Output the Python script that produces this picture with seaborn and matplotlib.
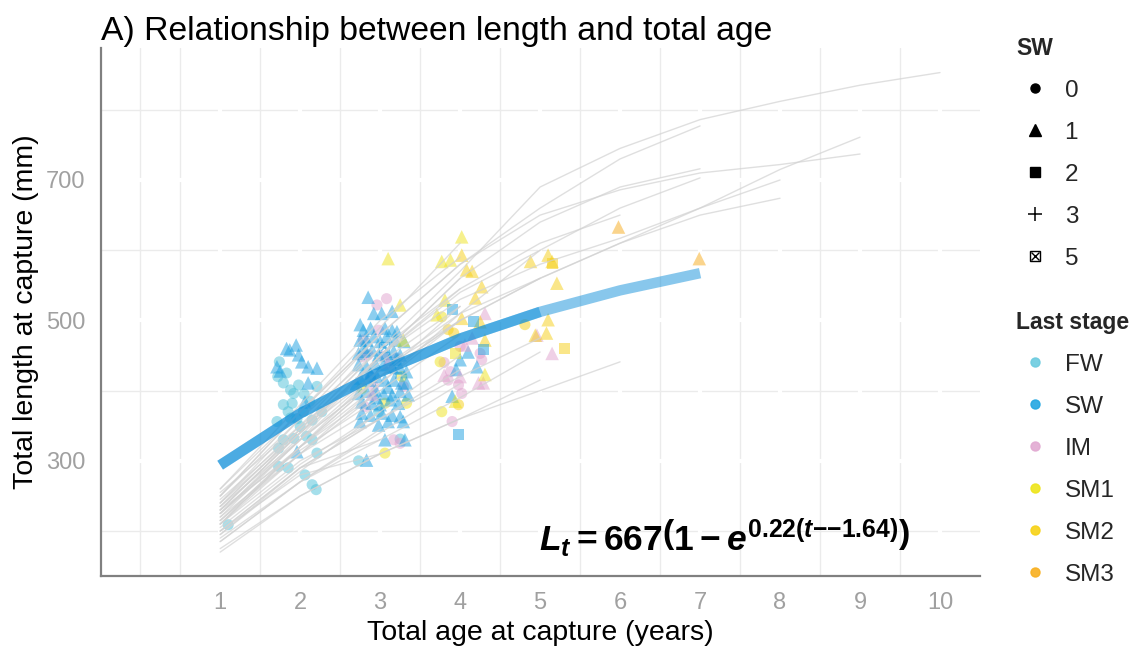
import numpy as np
import pandas as pd
import matplotlib
matplotlib.use("Agg")
import matplotlib.pyplot as plt
from matplotlib.lines import Line2D
import seaborn as sns

# ---------------- captured fish: age (years), total length (mm), sea-winters ----------------
fw_age = [1.10, 1.71, 1.72, 1.73, 1.73, 1.74, 1.79, 1.79, 1.79, 1.83, 1.85, 1.85, 1.88, 1.88,
          1.90, 1.92, 1.92, 1.96, 1.98, 2.00, 2.04, 2.05, 2.06, 2.08, 2.12, 2.15, 2.15, 2.15,
          2.20, 2.21, 2.21, 2.27, 2.73, 2.98, 3.25]
fw_len = [209, 356, 420, 318, 292, 441, 411, 380, 330, 425, 370, 290, 401, 361,
          382, 396, 332, 360, 408, 349, 370, 395, 280, 335, 385, 358, 330, 266,
          259, 406, 311, 370, 300, 370, 331]
fw_sw = [0, 0, 0, 0, 0, 0, 0, 0, 0, 0, 0, 0, 0, 0, 0, 0, 0, 0, 0, 0, 0, 0, 0, 0, 0, 0, 0, 0,
         0, 0, 0, 0, 0, 0, 0]

sw_age = [1.71, 1.75, 1.83, 1.87, 1.95, 1.96, 1.98, 2.02, 2.06, 2.10, 2.10, 2.21,
          2.85, 2.92, 3.02, 3.15, 2.75, 2.79, 2.88, 3.06, 3.15, 3.21, 2.75, 2.83, 2.92, 3.00,
          3.08, 3.19, 2.73, 2.81, 2.90, 2.98, 3.08, 3.17, 3.25, 2.73, 2.83, 2.94, 3.04, 3.15,
          3.25, 3.33, 2.75, 2.85, 2.96, 3.06, 3.17, 3.27, 3.33, 2.73, 2.83, 2.94, 3.04, 3.15,
          3.25, 3.35, 2.77, 2.90, 3.00, 3.13, 3.23, 2.77, 2.88, 3.02, 3.15, 3.25, 2.75, 2.98,
          3.10, 3.29, 3.06, 3.31, 2.83, 2.80, 3.12, 2.88, 3.10, 2.95, 3.20, 2.70, 3.30,
          3.90, 4.00, 4.21, 3.95, 4.10,
          3.90, 4.17, 4.29, 3.98,
          3.20, 3.05]
sw_len = [434, 428, 460, 458, 465, 313, 451, 441, 384, 434, 411, 432,
          533, 510, 510, 513, 494, 486, 489, 489, 486, 484, 472, 472, 477, 470,
          477, 472, 453, 456, 458, 451, 453, 456, 451, 437, 434, 439, 437, 434,
          432, 427, 418, 415, 420, 415, 415, 411, 411, 396, 399, 401, 396, 394,
          399, 394, 384, 382, 380, 387, 382, 368, 365, 368, 365, 363, 356, 351,
          356, 356, 330, 330, 301, 462, 445, 425, 405, 390, 445, 410, 470,
          392, 444, 434, 430, 455,
          515, 498, 458, 337,
          425, 462]
sw_sw = [1, 1, 1, 1, 1, 1, 1, 1, 1, 1, 1, 1,
         1, 1, 1, 1, 1, 1, 1, 1, 1, 1, 1, 1, 1, 1,
         1, 1, 1, 1, 1, 1, 1, 1, 1, 1, 1, 1, 1, 1,
         1, 1, 1, 1, 1, 1, 1, 1, 1, 1, 1, 1, 1, 1,
         1, 1, 1, 1, 1, 1, 1, 1, 1, 1, 1, 1, 1, 1,
         1, 1, 1, 1, 1, 1, 1, 1, 1, 1, 1, 1, 1,
         1, 1, 1, 1, 1,
         2, 2, 2, 2,
         3, 5]

im_age = [3.08, 2.96, 2.98, 2.79, 2.85, 3.04, 2.77, 3.21, 2.88, 2.92, 2.81, 3.29, 3.25, 3.17,
          4.00, 3.88, 3.98, 4.02, 3.90, 4.25, 4.27, 3.80, 3.85,
          3.10, 2.90, 4.31, 4.23, 4.29, 4.00, 4.06, 4.15, 3.80, 4.96, 5.15]
im_len = [531, 522, 486, 472, 451, 449, 448, 446, 420, 406, 377, 406, 325, 330,
          463, 427, 408, 396, 356, 453, 444, 440, 415,
          440, 395, 510, 411, 411, 420, 465, 475, 422, 479, 453]
im_sw = [0, 0, 0, 0, 0, 0, 0, 0, 0, 0, 0, 0, 0, 0,
         0, 0, 0, 0, 0, 0, 0, 0, 0,
         1, 1, 1, 1, 1, 1, 1, 1, 1, 1, 1]

sm1_age = [3.10, 3.25, 3.29, 3.77, 3.88, 4.02, 3.81, 3.71, 4.31, 3.94,
           3.06, 3.27, 3.33, 2.77, 3.06, 3.77, 3.75, 3.77,
           3.94]
sm1_len = [588, 522, 472, 584, 586, 619, 529, 508, 423, 385,
           382, 420, 382, 403, 311, 505, 441, 370,
           453]
sm1_sw = [1, 1, 1, 1, 1, 1, 1, 1, 1, 1,
          0, 0, 0, 0, 0, 0, 0, 0,
          2]

sm2_age = [4.02, 4.08, 4.15, 4.27, 4.19, 4.02, 4.25, 4.31, 4.88, 5.10, 5.15, 5.21, 5.10, 5.08,
           4.94, 3.85, 3.92, 3.98, 4.81, 5.15, 5.31]
sm2_len = [593, 572, 570, 548, 532, 503, 498, 472, 584, 593, 584, 553, 501, 482,
           479, 487, 482, 380, 494, 581, 460]
sm2_sw = [1, 1, 1, 1, 1, 1, 1, 1, 1, 1, 1, 1, 1, 1,
          1, 0, 0, 0, 0, 2, 2]

sm3_age = [5.98, 6.99]
sm3_len = [633, 588]
sm3_sw = [1, 1]

# ---------------- back-calculated growth of individual fish (length at ages 1, 2, ...) ----------------
backcalc_lengths = [
    [195, 290, 330], [210, 300, 360], [225, 320, 400], [240, 340, 430], [250, 360, 460],
    [200, 280, 310], [235, 330, 420], [215, 310, 380], [260, 370, 480], [190, 270, 345],
    [245, 345, 445], [230, 315, 390], [205, 295, 370], [255, 350, 470],
    [210, 320, 420, 520], [230, 340, 450, 560], [250, 370, 490, 610], [200, 290, 360, 430],
    [220, 310, 400, 480], [240, 350, 440, 520], [185, 270, 340, 410], [260, 380, 500, 590],
    [215, 320, 410, 500], [235, 345, 460, 545], [195, 285, 370, 450], [225, 330, 430, 500],
    [200, 290, 360, 420, 475], [185, 270, 330, 390, 455], [175, 250, 310, 360, 415],
    [230, 340, 450, 540, 600], [210, 320, 430, 510, 560],
    [170, 250, 310, 360, 400, 441], [225, 335, 450, 545, 610, 650],
    [240, 360, 480, 580, 660, 730, 777], [220, 330, 450, 560, 640, 690, 716],
    [210, 310, 410, 510, 600, 660, 703],
    [230, 340, 450, 530, 580, 617, 660, 700], [225, 330, 420, 500, 560, 610, 650, 674],
    [215, 320, 420, 500, 560, 610, 660, 715, 761], [250, 370, 480, 580, 650, 686, 710, 722, 737],
    [235, 345, 460, 570, 690, 745, 786, 812, 835, 853],
]

# von Bertalanffy growth parameters
vb_linf = 667
vb_k = 0.22
vb_t0 = -1.64
vb_ages_full = [1, 2, 3, 4, 5, 6, 7]
vb_ages_obs = [1, 2, 3, 4, 5]

stage_order = ["FW", "SW", "IM", "SM1", "SM2", "SM3"]
stage_colors = {"FW": "#4DC0D8", "SW": "#1A9FE0", "IM": "#E0A2CE",
                "SM1": "#EFE31C", "SM2": "#F6CF14", "SM3": "#F7AA1B"}
legend_colors = {"FW": "#6CCBDF", "SW": "#23A7E1", "IM": "#E2AAD2",
                 "SM1": "#EEE51A", "SM2": "#F7D216", "SM3": "#F8B020"}
curve_color = "#1290DA"

# ---------------- assemble tables ----------------
fish = pd.concat([
    pd.DataFrame({"age": fw_age, "length": fw_len, "sw": fw_sw, "stage": "FW"}),
    pd.DataFrame({"age": sw_age, "length": sw_len, "sw": sw_sw, "stage": "SW"}),
    pd.DataFrame({"age": im_age, "length": im_len, "sw": im_sw, "stage": "IM"}),
    pd.DataFrame({"age": sm1_age, "length": sm1_len, "sw": sm1_sw, "stage": "SM1"}),
    pd.DataFrame({"age": sm2_age, "length": sm2_len, "sw": sm2_sw, "stage": "SM2"}),
    pd.DataFrame({"age": sm3_age, "length": sm3_len, "sw": sm3_sw, "stage": "SM3"}),
], ignore_index=True)

paths = pd.DataFrame(
    [(fid, a, L) for fid, lens in enumerate(backcalc_lengths) for a, L in enumerate(lens, start=1)],
    columns=["fish", "age", "length"])


def vb_curve(ages):
    t = np.asarray(ages, dtype=float)
    return pd.DataFrame({"age": t, "length": vb_linf * (1 - np.exp(-vb_k * (t - vb_t0)))})


# ---------------- styling ----------------
sns.set_theme(style="white")
plt.rcParams["font.family"] = ["Liberation Sans", "DejaVu Sans"]
plt.rcParams["mathtext.fontset"] = "custom"
plt.rcParams["mathtext.rm"] = "Liberation Sans:weight=bold"
plt.rcParams["mathtext.it"] = "Liberation Sans:style=italic:weight=bold"
plt.rcParams["mathtext.bf"] = "Liberation Sans:weight=bold"

fig = plt.figure(figsize=(11.36, 6.48), dpi=100)
ax = fig.add_axes([101 / 1136, 1 - 576 / 648, 879 / 1136, 528 / 648])
ax.set_facecolor("white")

# panel grid: light minor lines, white major lines on top of them
for v in [0, 0.5, 1.5, 2.5, 3.5, 4.5, 5.5, 6.5, 7.5, 8.5, 9.5]:
    ax.axvline(v, color="#EBEBEB", lw=1.0, zorder=0.1)
for h in [200, 400, 600, 800]:
    ax.axhline(h, color="#EBEBEB", lw=1.0, zorder=0.1)
for v in range(1, 11):
    ax.axvline(v, color="white", lw=3.0, zorder=0.2)
for h in [300, 500, 700]:
    ax.axhline(h, color="white", lw=3.0, zorder=0.2)

# capture points, one marker per number of sea-winters
filled_markers = {0: ("o", 64), 1: ("^", 95), 2: ("s", 62)}
for sw, (mk, size) in filled_markers.items():
    sub = fish[fish["sw"] == sw]
    sns.scatterplot(data=sub, x="age", y="length", hue="stage", hue_order=stage_order,
                    palette=stage_colors, marker=mk, s=size, alpha=0.5,
                    edgecolor="none", linewidth=0, legend=False, ax=ax, zorder=2)
sub = fish[fish["sw"] == 3]
ax.scatter(sub["age"], sub["length"], marker="+", s=70, linewidths=1.2,
           c=[stage_colors[s] for s in sub["stage"]], alpha=0.6, zorder=2)
sub = fish[fish["sw"] == 5]
ax.scatter(sub["age"], sub["length"], marker="s", s=50, facecolors="none", linewidths=1.0,
           edgecolors=[stage_colors[s] for s in sub["stage"]], alpha=0.6, zorder=2)
ax.scatter(sub["age"], sub["length"], marker="x", s=30, linewidths=1.0,
           c=[stage_colors[s] for s in sub["stage"]], alpha=0.6, zorder=2)

# individual growth trajectories
sns.lineplot(data=paths, x="age", y="length", units="fish", estimator=None,
             color="#D2D2D2", lw=1.0, alpha=0.7, legend=False, ax=ax, zorder=3)

# fitted growth curve (solid over observed ages, extended to age 7)
for ages in (vb_ages_full, vb_ages_obs):
    sns.lineplot(data=vb_curve(ages), x="age", y="length", color=curve_color, lw=7.5,
                 alpha=0.5, solid_capstyle="butt", legend=False, ax=ax, zorder=4)

ax.text(7.3, 190, r"$L_t = 667\left(1 - e^{0.22(t{-}{-}1.64)}\right)$",
        fontsize=25.5, ha="center", va="center", color="black", zorder=5)

# axes
ax.set_xlim(-0.49, 10.5)
ax.set_ylim(136, 888)
ax.set_xticks(range(1, 11))
ax.set_yticks([300, 500, 700])
for side in ("top", "right"):
    ax.spines[side].set_visible(False)
for side in ("left", "bottom"):
    ax.spines[side].set_color("#808080")
    ax.spines[side].set_linewidth(1.6)
ax.tick_params(axis="both", colors="#808080", labelcolor="#A0A0A0", labelsize=17,
               length=5.5, width=1.5, direction="out")
ax.tick_params(axis="x", pad=6)
ax.tick_params(axis="y", pad=6)
ax.set_xlabel("Total age at capture (years)", fontsize=20.5, color="black", labelpad=4)
ax.set_ylabel("Total length at capture (mm)", fontsize=20.5, color="black", labelpad=5)
ax.set_title("A) Relationship between length and total age", loc="left",
             fontsize=24.3, color="black", pad=6)

# legends
sw_handles = [
    Line2D([], [], ls="", marker="o", color="black", ms=6.5),
    Line2D([], [], ls="", marker="^", color="black", ms=8),
    Line2D([], [], ls="", marker="s", color="black", ms=6.5),
    Line2D([], [], ls="", marker="+", color="black", ms=10, mew=1.1),
    (Line2D([], [], ls="", marker="s", mfc="none", mec="black", ms=7, mew=1.0),
     Line2D([], [], ls="", marker="x", color="black", ms=5.5, mew=1.0)),
]
leg_kw = dict(loc="upper left", frameon=False, fontsize=17.5, alignment="left",
              title_fontproperties={"weight": "bold", "size": 16.5},
              handlelength=1.6, handletextpad=0.4, labelspacing=0.82, borderpad=0.2)
fig.legend(sw_handles, ["0", "1", "2", "3", "5"], title="SW",
           bbox_to_anchor=(999 / 1136, 1 - 20 / 648), **leg_kw)
stage_handles = [Line2D([], [], ls="", marker="o", color=legend_colors[s], ms=6.5, alpha=0.9)
                 for s in stage_order]
fig.legend(stage_handles, stage_order, title="Last stage",
           bbox_to_anchor=(999 / 1136, 1 - 294 / 648), **leg_kw)

fig.savefig("out.png", dpi=100)
